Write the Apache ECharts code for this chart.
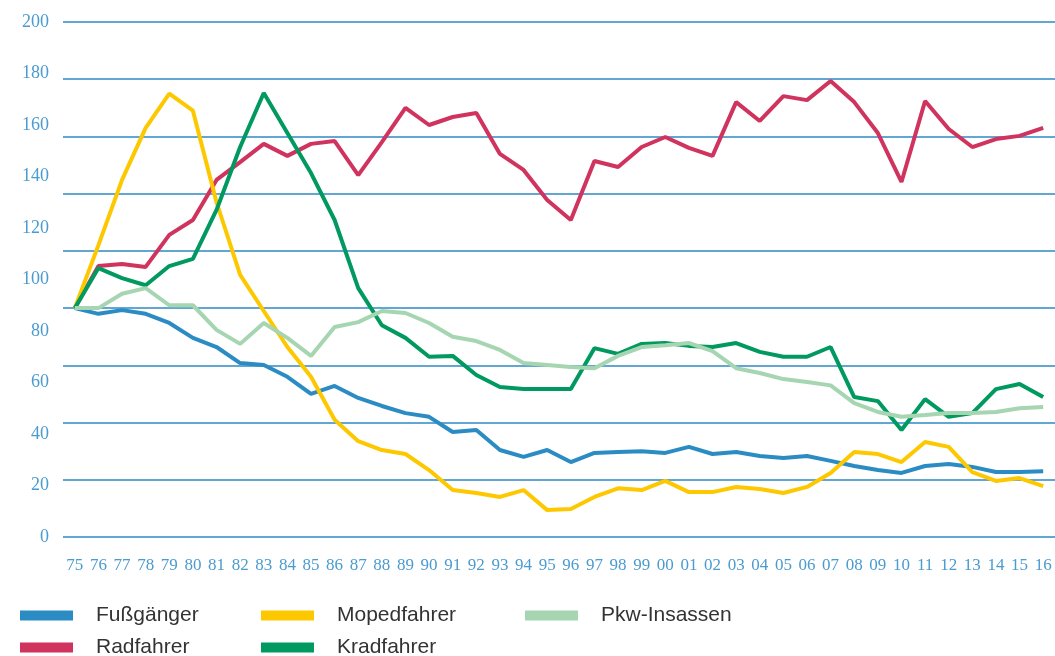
<!DOCTYPE html>
<html>
<head>
<meta charset="utf-8">
<script src="https://cdn.jsdelivr.net/npm/echarts@6/dist/echarts.min.js"></script>
<style>
  html, body { margin: 0; padding: 0; background: #fff; }
  #chart { width: 1055px; height: 656px; }
</style>
</head>
<body>
<div id="chart"></div>
<script>
const years = ['75','76','77','78','79','80','81','82','83','84','85','86','87','88','89','90','91','92','93','94','95','96','97','98','99','00','01','02','03','04','05','06','07','08','09','10','11','12','13','14','15','16'];
const yTickLabels = [0, 20, 40, 60, 80, 100, 120, 140, 160, 180, 200];

const fussgaenger = [100,98,99.3,98,94.8,89.6,86.4,80.8,80.1,76,70,72.8,68.6,65.8,63.3,62,56.7,57.4,50.4,48,50.4,46.2,49.4,49.7,50,49.4,51.5,49,49.7,48.3,47.6,48.3,46.6,44.8,43.4,42.4,44.8,45.5,44.5,42.7,42.7,43];
const radfahrer = [100,114.7,115.4,114.4,125.6,130.8,144.8,151,157.4,153.2,157.4,158.4,146.5,158,170,164,166.8,168.2,153.9,148.3,137.8,130.8,151.4,149.3,156.3,159.8,156,153.2,172,165.4,174.1,172.7,179.4,172,161.2,144.1,172.4,162.6,156.3,159.1,160.2,163];
const mopedfahrer = [100,122,144.8,163,175,169,137,111.6,99,86.4,76,61,53.5,50.4,49,43.4,36.4,35.4,34,36.4,29.4,29.8,34,37,36.4,39.6,35.7,35.7,37.5,36.8,35.4,37.5,42.4,49.7,49,46.2,53.2,51.5,42.7,39.6,40.6,37.8];
const kradfahrer = [100,114,110.5,108,114.7,117.2,134.3,156.3,175.2,161.2,147.2,130.8,107,94,89.6,83,83.3,76.6,72.4,71.7,71.7,71.7,86,84,87.5,87.8,86.8,86.4,87.8,84.7,83,83,86.4,68.9,67.5,57.4,68.2,62,63.3,71.7,73.5,68.9];
const pkwInsassen = [100,100,105,107,101,101,92.4,87.5,94.8,89.6,83.3,93.4,95.1,99,98.3,94.8,90,88.5,85.4,80.8,80.1,79.4,79,83.3,86.4,87,87.8,85,79,77.3,75.2,74.2,73,66.8,63.7,62,62.6,63.3,63.3,63.7,65,65.4];

const colors = {
  fuss: '#2b8cc4',
  rad: '#d0335e',
  moped: '#fdc800',
  krad: '#00995f',
  pkw: '#a6d5b2'
};

const chart = echarts.init(document.getElementById('chart'));

// one legend per entry, laid out in two rows like the original
function makeLegend(left, top, name) {
  return {
    left: left,
    top: top,
    padding: 0,
    icon: 'rect',
    itemWidth: 53,
    itemHeight: 10,
    textStyle: {
      fontFamily: "'Liberation Sans Narrow', 'Liberation Sans', sans-serif",
      fontSize: 21,
      color: '#333',
      padding: [0, 0, 0, 18]
    },
    data: [name]
  };
}

function line(name, data, color) {
  return {
    name: name,
    type: 'line',
    data: data,
    symbol: 'none',
    lineStyle: { width: 4, color: color },
    itemStyle: { color: color },
    z: 3
  };
}

const option = {
  animation: false,
  grid: { left: 63, right: 0, top: 22, bottom: 119 },
  legend: [
    makeLegend(20, 605, 'Fußgänger'),
    makeLegend(20, 637, 'Radfahrer'),
    makeLegend(261, 605, 'Mopedfahrer'),
    makeLegend(261, 637, 'Kradfahrer'),
    makeLegend(525, 605, 'Pkw-Insassen')
  ],
  xAxis: {
    type: 'category',
    data: years,
    boundaryGap: true,
    axisLine: { show: false },
    axisTick: { show: false },
    axisLabel: {
      interval: 0,
      margin: 20,
      fontFamily: "'Liberation Serif', serif",
      fontSize: 17,
      color: '#4a9bd0'
    }
  },
  yAxis: [
    {
      type: 'value',
      min: 20,
      max: 200,
      interval: 20,
      axisLine: { show: false },
      axisTick: { show: false },
      axisLabel: { show: false },
      splitLine: { lineStyle: { color: '#2e8ac6', width: 1.5 } }
    },
    {
      type: 'value',
      position: 'left',
      min: yTickLabels[0],
      max: yTickLabels[yTickLabels.length - 1],
      interval: 20,
      axisLine: { show: false },
      axisTick: { show: false },
      splitLine: { show: false },
      axisLabel: {
        margin: 14,
        fontFamily: "'Liberation Serif', serif",
        fontSize: 18,
        color: '#4a9bd0'
      }
    }
  ],
  series: [
    line('Fußgänger', fussgaenger, colors.fuss),
    line('Radfahrer', radfahrer, colors.rad),
    line('Mopedfahrer', mopedfahrer, colors.moped),
    line('Kradfahrer', kradfahrer, colors.krad),
    line('Pkw-Insassen', pkwInsassen, colors.pkw)
  ]
};

option && chart.setOption(option);
</script>
</body>
</html>
